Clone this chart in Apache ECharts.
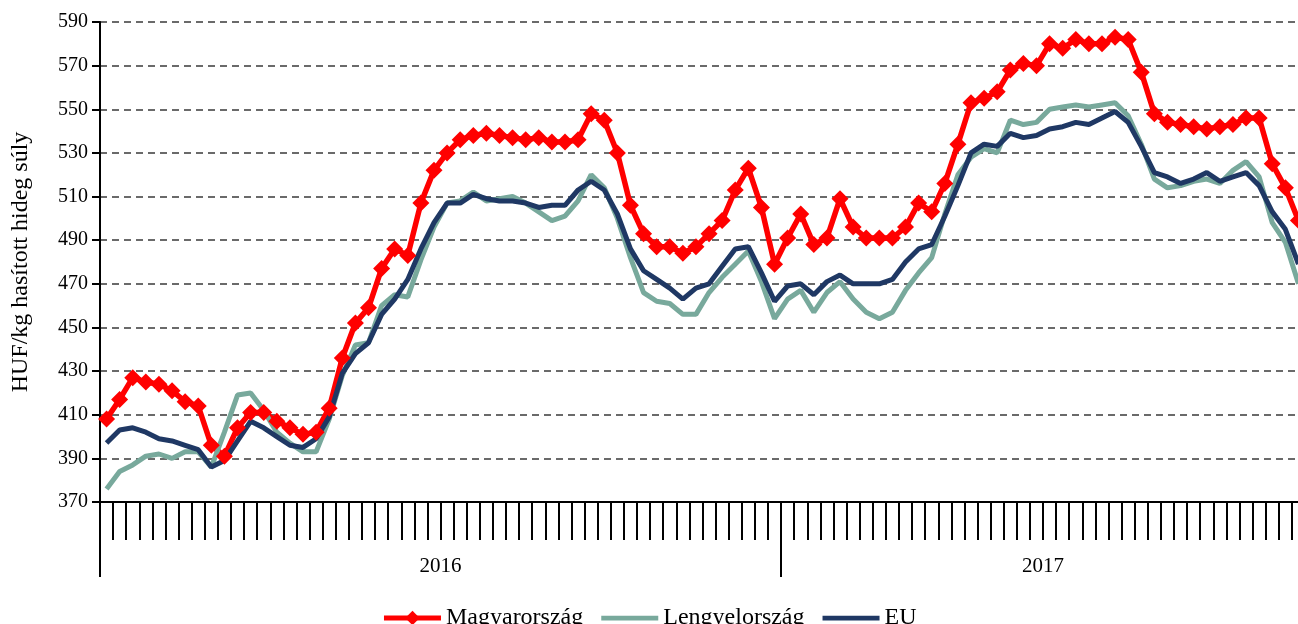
<!DOCTYPE html>
<html><head><meta charset="utf-8">
<script src="https://cdn.jsdelivr.net/npm/echarts@6/dist/echarts.min.js"></script>
<style>html,body{margin:0;padding:0;background:#fff}#c{width:1298px;height:624px}</style>
</head><body><div id="c"></div><script>
const years = ['2016', '2017'];
const weeksPerYear = [52, 40];
const yAxisName = 'HUF/kg hasított hideg súly';
const seriesNames = ['Magyarország', 'Lengyelország', 'EU'];
const magyar = [408,417,427,425,424,421,416,414,396,391,404,411,411,407,404,401,402,413,436,452,
  459,477,486,483,507,522,530,536,538,539,538,537,536,537,535,535,536,548,545,530,
  506,493,487,487,484,487,493,499,513,523,505,479,491,502,488,491,509,496,491,491,
  491,496,507,503,516,534,553,555,558,568,571,570,580,578,582,580,580,583,582,567,
  548,544,543,542,541,542,543,546,546,525,514,499];
const lengyel = [376,384,387,391,392,390,393,393,386,402,419,420,412,402,397,393,393,408,428,442,
  443,460,465,464,481,496,507,508,512,508,509,510,507,503,499,501,508,520,514,500,
  482,466,462,461,456,456,466,473,479,485,471,454,463,467,457,466,471,463,457,454,
  457,467,475,482,502,520,528,532,530,545,543,544,550,551,552,551,552,553,547,534,
  518,514,515,517,518,516,522,526,519,498,489,470];
const eu = [397,403,404,402,399,398,396,394,386,389,398,407,404,400,396,395,399,409,429,438,
  443,456,463,472,486,498,507,507,511,509,508,508,507,505,506,506,513,517,513,502,
  486,476,472,468,463,468,470,478,486,487,475,462,469,470,465,471,474,470,470,470,
  472,480,486,488,501,515,530,534,533,539,537,538,541,542,544,543,546,549,544,533,
  521,519,516,518,521,517,519,521,515,503,495,479];

// build week categories and year boundaries
const weeks = [];
const boundaries = [];
const labelAt = {};
let start = 0;
years.forEach((y, k) => {
  boundaries.push(start);
  labelAt[start + Math.floor(weeksPerYear[k] / 2)] = y;
  for (let w = 1; w <= weeksPerYear[k]; w++) weeks.push(y + '-' + w);
  start += weeksPerYear[k];
});

const colors = ['#ff0000', '#78a99c', '#1f3864'];
const lineIcon = 'path://M0,0L60,0L60,5L0,5Z';
const font = 'Liberation Serif, Times New Roman, serif';
const chart = echarts.init(document.getElementById('c'));
chart.setOption({
  animation: false,
  backgroundColor: '#fff',
  grid: { left: 100, top: 22, height: 480, width: 1205, containLabel: false, outerBoundsMode: 'none' },
  legend: {
    top: 601, left: 'center', itemWidth: 57, itemHeight: 18, itemGap: 18,
    textStyle: { fontFamily: font, fontSize: 24, color: '#000' },
    data: [
      { name: seriesNames[0], lineStyle: { width: 5, color: colors[0] } },
      { name: seriesNames[1], icon: lineIcon, itemStyle: { color: colors[1] } },
      { name: seriesNames[2], icon: lineIcon, itemStyle: { color: colors[2] } }
    ]
  },
  xAxis: [{
    type: 'category', data: weeks, boundaryGap: true, position: 'bottom',
    axisLine: { show: true, lineStyle: { color: '#000', width: 2 } },
    axisTick: { show: true, interval: 0, length: 38, lineStyle: { color: '#000', width: 2 } },
    axisLabel: { show: false }, splitLine: { show: false }
  }, {
    type: 'category', data: weeks, boundaryGap: true, position: 'bottom',
    axisLine: { show: false },
    axisTick: { show: true, length: 75, interval: (i) => boundaries.indexOf(i) >= 0, lineStyle: { color: '#000', width: 2 } },
    axisLabel: {
      show: true, interval: (i) => labelAt[i] !== undefined, margin: 54,
      formatter: (v, i) => labelAt[i] || '', padding: [0, 13, 0, 0],
      fontFamily: font, fontSize: 21, color: '#000'
    },
    splitLine: { show: false }
  }],
  yAxis: {
    type: 'value', min: 370, max: 590, interval: 20,
    name: yAxisName, nameLocation: 'middle', nameGap: 67, nameRotate: 90,
    nameTextStyle: { fontFamily: font, fontSize: 24, color: '#000' },
    axisLine: { show: true, lineStyle: { color: '#000', width: 2 } },
    axisTick: { show: true, inside: false, length: 8, lineStyle: { color: '#000', width: 2 } },
    axisLabel: { fontFamily: font, fontSize: 20, color: '#000', margin: 12 },
    splitLine: { show: true, lineStyle: { color: '#3a3a3a', width: 1.5, type: [7, 5] } }
  },
  series: [{
    name: seriesNames[0], type: 'line', data: magyar, xAxisIndex: 0,
    symbol: 'diamond', symbolSize: 17, showAllSymbol: true,
    lineStyle: { color: colors[0], width: 5.5 }, itemStyle: { color: colors[0] }
  }, {
    name: seriesNames[1], type: 'line', data: lengyel, xAxisIndex: 0,
    symbol: 'none', lineStyle: { color: colors[1], width: 5 }, itemStyle: { color: colors[1] }
  }, {
    name: seriesNames[2], type: 'line', data: eu, xAxisIndex: 0,
    symbol: 'none', lineStyle: { color: colors[2], width: 5 }, itemStyle: { color: colors[2] }
  }]
});
</script></body></html>
